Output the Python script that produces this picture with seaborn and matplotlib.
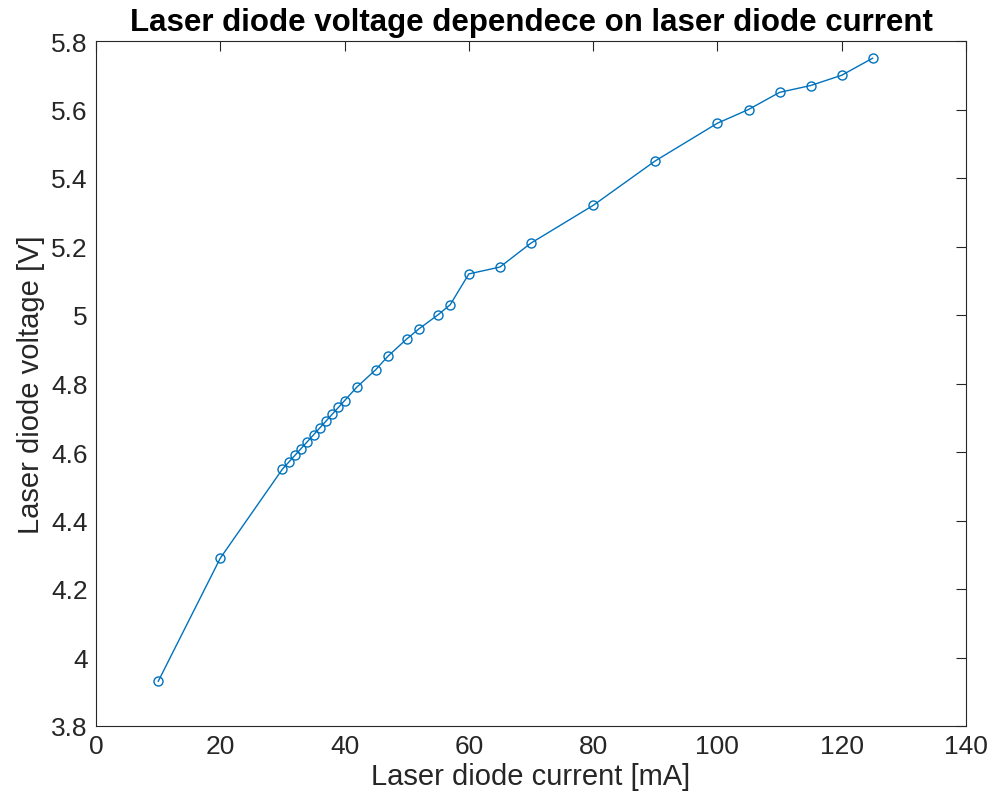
import matplotlib
matplotlib.use("Agg")
import matplotlib.pyplot as plt
import seaborn as sns
import pandas as pd

current = [10, 20, 30, 31, 32, 33, 34, 35, 36, 37, 38, 39, 40, 42, 45, 47, 50, 52, 55, 57,
           60, 65, 70, 80, 90, 100, 105, 110, 115, 120, 125]
voltage = [3.93, 4.29, 4.55, 4.57, 4.59, 4.61, 4.63, 4.65, 4.67, 4.69, 4.71, 4.73, 4.75, 4.79,
           4.84, 4.88, 4.93, 4.96, 5.00, 5.03, 5.12, 5.14, 5.21, 5.32, 5.45, 5.56, 5.60, 5.65,
           5.67, 5.70, 5.75]
xticks = [0, 20, 40, 60, 80, 100, 120, 140]
yticks = [3.8, 4.0, 4.2, 4.4, 4.6, 4.8, 5.0, 5.2, 5.4, 5.6, 5.8]
yticklabels = ["3.8", "4", "4.2", "4.4", "4.6", "4.8", "5", "5.2", "5.4", "5.6", "5.8"]

df = pd.DataFrame({"current": current, "voltage": voltage})

sns.set_style("white")
plt.rcParams['font.family'] = ['Liberation Sans', 'DejaVu Sans']

fig = plt.figure(figsize=(9.92, 8.12), dpi=100)
ax = fig.add_axes([96/992, 1 - 727/812, (966-96)/992, (727-42)/812])
color = "#0072BD"
sns.lineplot(data=df, x="current", y="voltage", ax=ax, color=color, linewidth=1.0,
             marker="o", markersize=6.5, markerfacecolor="none", markeredgecolor=color,
             markeredgewidth=1.0)
ax.set_xlim(0, 140)
ax.set_ylim(3.8, 5.8)
ax.set_xticks(xticks)
ax.set_yticks(yticks)
ax.set_yticklabels(yticklabels)
ax.tick_params(direction="in", top=True, right=True, length=7, width=0.8,
               labelsize=19, colors="#262626", pad=6)
for s in ax.spines.values():
    s.set_color("#262626")
    s.set_linewidth(0.8)
ax.set_xlabel("Laser diode current [mA]", fontsize=21, color="#262626", labelpad=3)
ax.set_ylabel("Laser diode voltage [V]", fontsize=21, color="#262626", labelpad=4)
ax.set_title("Laser diode voltage dependece on laser diode current", fontsize=22.5,
             fontweight="bold", color="black", pad=8)
fig.savefig("out.png", dpi=100)
